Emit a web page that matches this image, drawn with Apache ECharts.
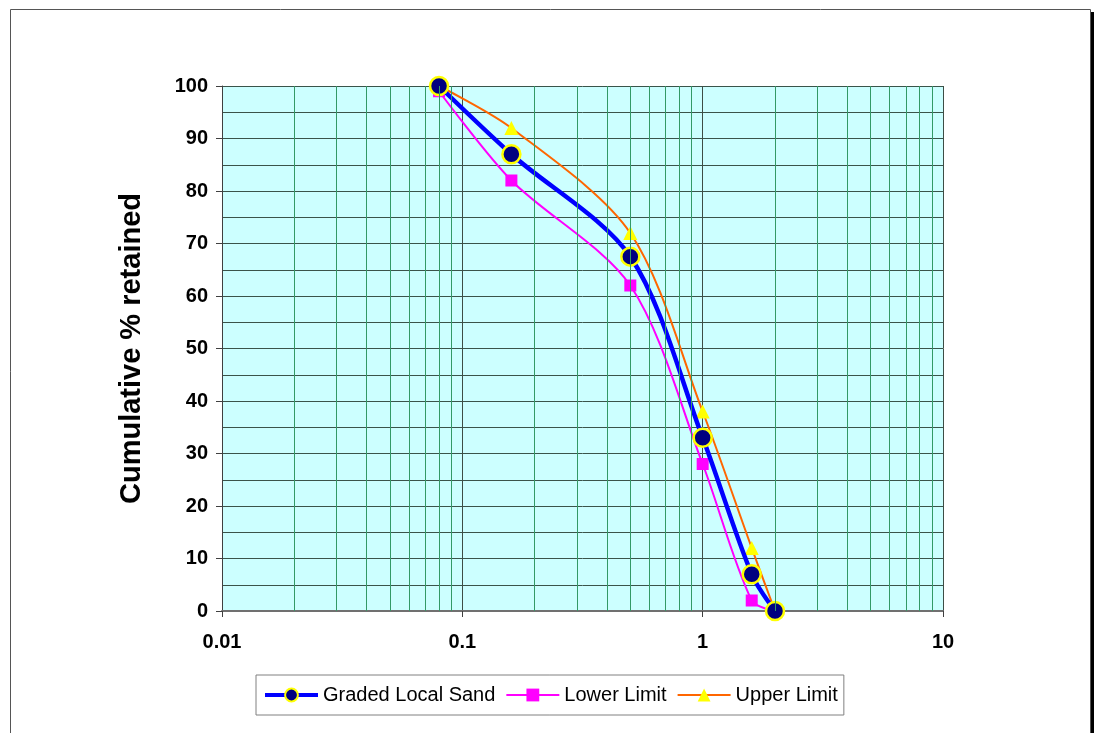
<!DOCTYPE html>
<html>
<head>
<meta charset="utf-8">
<script src="https://cdn.jsdelivr.net/npm/echarts@6/dist/echarts.min.js"></script>
<style>
  html, body { margin: 0; padding: 0; background: #ffffff; }
  #chart { width: 1095px; height: 733px; }
</style>
</head>
<body>
<div id="chart"></div>
<script>
// Sieve sizes (mm) and cumulative % retained
const sieveSizes = [0.08, 0.16, 0.5, 1, 1.6, 2];
const gradedLocalSand = [100, 87, 67.5, 33, 7, 0];
const lowerLimit = [99, 82, 62, 28, 2, 0];
const upperLimit = [100, 92, 72, 38, 12, 0];

// Log-grid minor lines between decades
const minorGridX = [
  0.02, 0.03, 0.04, 0.05, 0.06, 0.07, 0.08, 0.09,
  0.2, 0.3, 0.4, 0.5, 0.6, 0.7, 0.8, 0.9,
  2, 3, 4, 5, 6, 7, 8, 9
];
const xTickLabels = { 0.01: '0.01', 0.1: '0.1', 1: '1', 10: '10' };

const seriesNames = ['Graded Local Sand', 'Lower Limit', 'Upper Limit'];

function pairs(ys) {
  return sieveSizes.map((x, i) => [x, ys[i]]);
}

const FONT = 'Liberation Sans, Arial, sans-serif';
const SMOOTH = 0.3;

const chart = echarts.init(document.getElementById('chart'), null, { renderer: 'canvas' });

chart.setOption({
  backgroundColor: '#ffffff',
  animation: false,
  graphic: [
    { type: 'rect', z: -10, shape: { x: 1090, y: 12, width: 4, height: 730 }, style: { fill: '#000000' } },
    { type: 'rect', z: -9, shape: { x: 10.5, y: 9.5, width: 1080, height: 740 },
      style: { fill: '#ffffff', stroke: '#555555', lineWidth: 1 } }
  ],
  grid: {
    left: 222, top: 86, width: 721, height: 525,
    show: true, backgroundColor: '#ccffff', borderWidth: 0
  },
  xAxis: {
    type: 'log', logBase: 10, min: 0.01, max: 10,
    axisLine: { show: true, onZero: false, lineStyle: { color: '#707070', width: 2 } },
    axisTick: { show: true, length: 6, lineStyle: { color: '#404040', width: 1 } },
    axisLabel: {
      margin: 21, color: '#000000', fontFamily: FONT, fontWeight: 'bold', fontSize: 20,
      formatter: v => xTickLabels[+v.toPrecision(3)] || ''
    },
    splitLine: { show: true, lineStyle: { color: '#3d4d45', width: 1 } }
  },
  yAxis: {
    type: 'value', min: 0, max: 100, interval: 10,
    name: 'Cumulative % retained', nameLocation: 'middle', nameGap: 76, nameRotate: 90,
    nameTextStyle: { color: '#000000', fontFamily: FONT, fontWeight: 'bold', fontSize: 29 },
    axisLine: { show: true, lineStyle: { color: '#404040', width: 1 } },
    axisTick: { show: true, length: 6, lineStyle: { color: '#404040' } },
    axisLabel: { margin: 14, color: '#000000', fontFamily: FONT, fontWeight: 'bold', fontSize: 20 },
    splitLine: { show: true, lineStyle: { color: '#3a544a', width: 1 } },
    minorTick: { show: false, splitNumber: 2 },
    minorSplitLine: { show: true, lineStyle: { color: '#3a544a', width: 1 } }
  },
  legend: {
    left: 256, top: 675,
    data: [
      { name: seriesNames[0], lineStyle: { width: 4 } },
      { name: seriesNames[1], lineStyle: { width: 2 } },
      { name: seriesNames[2], lineStyle: { width: 2 } }
    ],
    orient: 'horizontal',
    padding: [10, 6, 10, 7],
    itemGap: 10,
    itemWidth: 53, itemHeight: 16,
    borderColor: '#808080', borderWidth: 1,
    backgroundColor: '#ffffff',
    textStyle: { color: '#000000', fontFamily: FONT, fontSize: 20 }
  },
  series: [
    {
      name: '_grid',
      type: 'line', data: [], z: 1, silent: true,
      markLine: {
        silent: true, symbol: ['none', 'none'], animation: false,
        label: { show: false },
        lineStyle: { color: '#339966', width: 1, type: 'solid' },
        data: minorGridX.map(x => ({ xAxis: x }))
      }
    },
    {
      name: seriesNames[1],
      type: 'line', data: pairs(lowerLimit), smooth: SMOOTH, z: 3,
      symbol: 'rect', symbolSize: 12,
      lineStyle: { color: '#ff00ff', width: 2 },
      itemStyle: { color: '#ff00ff', borderWidth: 0 }
    },
    {
      name: seriesNames[2],
      type: 'line', data: pairs(upperLimit), smooth: SMOOTH, z: 3,
      symbol: 'triangle', symbolSize: [14, 14],
      lineStyle: { color: '#ff6600', width: 2 },
      itemStyle: { color: '#ffff00', borderWidth: 0 }
    },
    {
      name: seriesNames[0],
      type: 'line', data: pairs(gradedLocalSand), smooth: SMOOTH, z: 4,
      symbol: 'circle', symbolSize: 18,
      lineStyle: { color: '#0000ff', width: 4.5 },
      itemStyle: { color: '#000080', borderColor: '#ffff00', borderWidth: 2.5 }
    }
  ]
});
</script>
</body>
</html>
